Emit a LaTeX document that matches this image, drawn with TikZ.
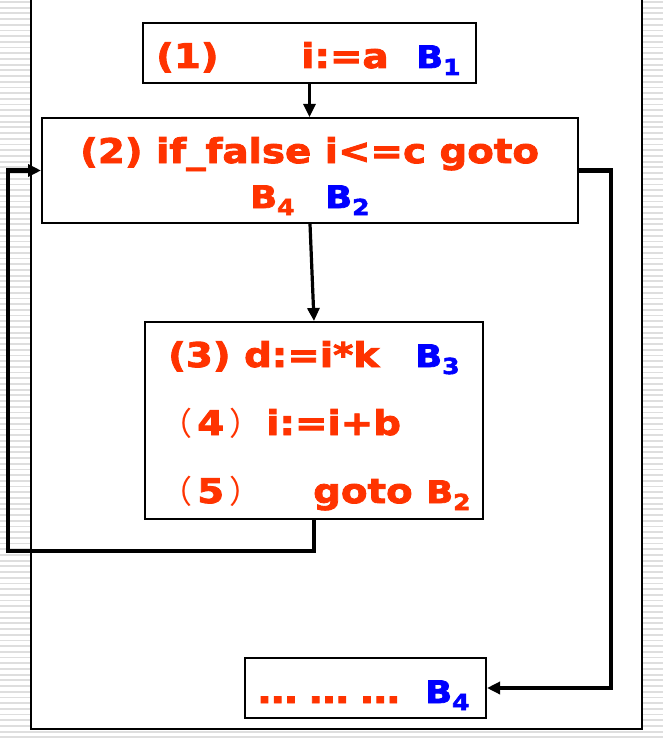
\documentclass[tikz,border=0pt]{standalone}
\usepackage{fontspec}
\usepackage{tikz}
\usetikzlibrary{arrows.meta}
\newfontfamily\vfont[FakeStretch=1.14,FakeBold=2.5]{DejaVu Sans Bold}
\newfontfamily\cjk{Noto Sans CJK SC}
\definecolor{codered}{HTML}{FF3300}
\definecolor{blkblue}{HTML}{0000FF}
\newcommand\blk[2]{{\fontsize{31}{31}\selectfont #1}\raisebox{-7pt}{\fontsize{22}{22}\selectfont #2}}
\newcommand\lp{{\cjk\fontsize{32}{32}\selectfont （}}
\newcommand\rp{{\cjk\fontsize{32}{32}\selectfont ）}}
\newcommand\threedots{.\kern-1.5pt.\kern-1.5pt.}

\begin{document}
\begin{tikzpicture}[x=1pt,y=-1pt,
  stripe/.style={draw=black!13,line width=1.8pt},
  block/.style={draw,line width=2pt,fill=white,inner sep=0pt},
  code/.style={anchor=base west,inner sep=0pt,text=codered,font=\vfont\fontsize{34}{40}\selectfont},
  label/.style={code,text=blkblue},
  flow/.style={line width=3.2pt,-{Triangle[length=13pt,width=12pt]}},
  back/.style={flow,line width=4.5pt}]
\useasboundingbox (0,0) rectangle (663,741);
\foreach \y in {2,7.7,...,741}
  \draw[stripe] (0,\y) -- (663,\y);
\fill[white] (31,0) rectangle (642,729);
\draw[line width=1.5pt] (31,0) -- (31,729) -- (642,729) -- (642,0);

\node[block,minimum width=333pt,minimum height=60pt] (b1) at (309.5,53) {};
\node[block,minimum width=536pt,minimum height=105pt] (b2) at (310,170.5) {};
\node[block,minimum width=338pt,minimum height=197pt] (b3) at (314,420.5) {};
\node[block,minimum width=241pt,minimum height=60pt] (b4) at (365.5,688) {};

\node[code] (s1) at (156,68) {(1)};
\node[code] (c1) at (301,68) {i:=a};
\node[label] (l1) at (416,68) {\blk B1};
\node[code] (s2) at (80,163) {(2) if\_false i<=c goto};
\node[code] (l2a) at (250,208) {\blk B4};
\node[label] (l2b) at (325,208) {\blk B2};
\node[code] (s3) at (168,367) {(3) d:=i*k};
\node[label] (l3) at (415,367) {\blk B3};
\node[code] (s4) at (160,435) {\lp\hspace{5pt}4\hspace{5pt}\rp};
\node[code] (c4) at (266,435) {i:=i+b};
\node[code] (s5) at (160,503) {\lp\hspace{5pt}5\hspace{5pt}\rp};
\node[code] (c5) at (313,503) {goto \blk B2};
\node[code] (s6) at (257,703) {\threedots\hspace{10pt}\threedots\hspace{10pt}\threedots};
\node[label] (l6) at (425,703) {\blk B4};

\coordinate (lp) at (8,551);
\coordinate (rp) at (611,688);
\draw[flow,line width=2.6pt] (b1.south) -- (b1.south |- b2.north);
\draw[flow] (b2.south) -- (b3.north);
\draw[back] (b3.south) |- (lp) |- (b2.west);
\draw[back] (b2.east) -| (rp) -- (b4.east);
\end{tikzpicture}
\end{document}
